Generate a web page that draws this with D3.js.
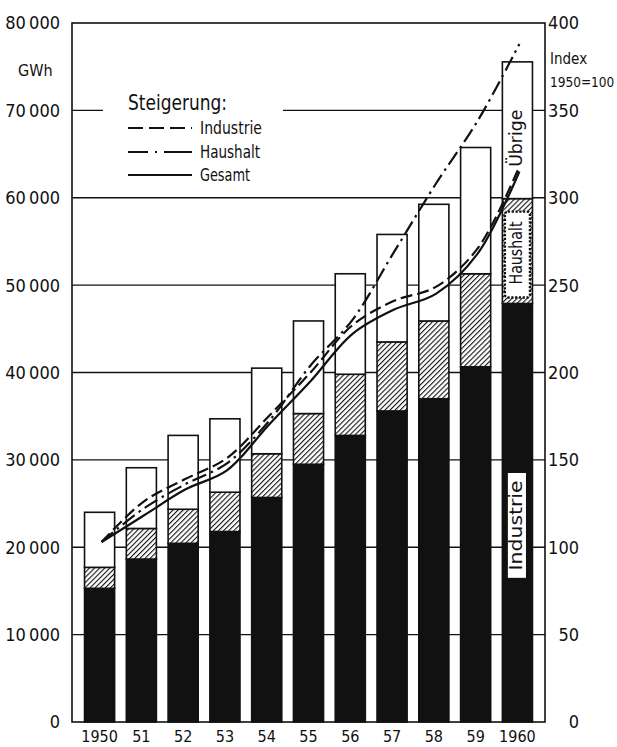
<!DOCTYPE html>
<html>
<head>
<meta charset="utf-8">
<script src="https://cdn.jsdelivr.net/npm/d3@7"></script>
<style>
body { margin: 0; background: #fff; }
svg { display: block; font-family: "Liberation Sans Narrow", "DejaVu Sans Condensed", "Arial Narrow", sans-serif; }
</style>
</head>
<body>
<div id="mainDiv"></div>
<script>
'use strict';

// Stromverbrauch in GWh, nach Verbrauchergruppen
var years     = ['1950', '51', '52', '53', '54', '55', '56', '57', '58', '59', '1960'];
var industrie = [15300, 18650, 20450, 21800, 25700, 29500, 32800, 35600, 37000, 40650, 47900];
var haushalt  = [ 2400,  3500,  3900,  4500,  5000,  5800,  7000,  7900,  8900, 10650, 12000];
var uebrige   = [ 6300,  6950,  8450,  8400,  9800, 10600, 11500, 12300, 13350, 14450, 15650];

// Steigerung, Index 1950 = 100
var idxIndustrie = [103, 126, 139, 151, 175, 200, 227, 241, 249, 271, 318];
var idxHaushalt  = [103, 122, 136, 148, 172, 204, 230, 269, 308, 344, 388];
var idxGesamt    = [103, 118, 133, 144, 170, 195, 222, 236, 245, 268, 315];

var gwhTicks   = [0, 10000, 20000, 30000, 40000, 50000, 60000, 70000, 80000];
var indexTicks = [0, 50, 100, 150, 200, 250, 300, 350, 400];

var myApp = {};

myApp.W = 617;
myApp.H = 747;
myApp.m = {left: 72, right: 72, top: 23, bottom: 25};

myApp.fmt = function(v)
{
    return d3.format(',')(v).replace(/,/g, '\u2009');
}

myApp.buildRows = function()
{
    var rows = [];
    for(var i=0; i<years.length; i++)
    {
        rows.push({year: years[i], industrie: industrie[i], haushalt: haushalt[i], uebrige: uebrige[i]});
    }
    return rows;
}

myApp.run = function()
{
    var m = myApp.m;
    var svg = d3.select('#mainDiv').append('svg')
        .attr('width', myApp.W)
        .attr('height', myApp.H);

    var x = d3.scaleBand()
        .domain(years)
        .range([m.left, myApp.W - m.right])
        .paddingInner(0.28)
        .paddingOuter(0.3);

    var y = d3.scaleLinear().domain([0, 80000]).range([myApp.H - m.bottom, m.top]);
    var yi = d3.scaleLinear().domain([0, 400]).range([myApp.H - m.bottom, m.top]);

    var bw = x.bandwidth();

    // hatch pattern for Haushalt
    var pat = svg.append('defs').append('pattern')
        .attr('id', 'hatch')
        .attr('patternUnits', 'userSpaceOnUse')
        .attr('width', 3.6)
        .attr('height', 3.6)
        .attr('patternTransform', 'rotate(45)');
    pat.append('rect')
        .attr('width', 3.6).attr('height', 3.6).attr('fill', '#fff');
    pat.append('line')
        .attr('x1', 0).attr('y1', 0)
        .attr('x2', 0).attr('y2', 3.6)
        .attr('stroke', '#111')
        .attr('stroke-width', 2.2);

    // gridlines behind bars
    svg.append('g').selectAll('line')
        .data(gwhTicks.slice(1, -1))
        .enter().append('line')
        .attr('x1', m.left)
        .attr('x2', myApp.W - m.right)
        .attr('y1', function(d){ return y(d); })
        .attr('y2', function(d){ return y(d); })
        .attr('stroke', '#111')
        .attr('stroke-width', 1.3);

    // stacked bars
    var keys = ['industrie', 'haushalt', 'uebrige'];
    var fills = {industrie: '#111', haushalt: 'url(#hatch)', uebrige: '#fff'};
    var series = d3.stack().keys(keys)(myApp.buildRows());

    svg.append('g').selectAll('g')
        .data(series)
        .enter().append('g')
        .attr('fill', function(s){ return fills[s.key]; })
        .selectAll('rect')
        .data(function(s){ return s; })
        .enter().append('rect')
        .attr('x', function(d){ return x(d.data.year); })
        .attr('width', bw)
        .attr('y', function(d){ return y(d[1]); })
        .attr('height', function(d){ return y(d[0]) - y(d[1]); })
        .attr('stroke', '#111')
        .attr('stroke-width', 1.6);

    // labels inside the 1960 bar
    var last = years.length - 1;
    var bx = x(years[last]);
    var cx = bx + bw / 2;
    var hTop = y(industrie[last] + haushalt[last]);
    var hBot = y(industrie[last]);

    svg.append('rect')
        .attr('x', bx + 2.5)
        .attr('width', bw - 5)
        .attr('y', hTop + 13)
        .attr('height', hBot - hTop - 19)
        .attr('rx', 3)
        .attr('fill', '#fff')
        .attr('stroke', '#111')
        .attr('stroke-width', 2.4)
        .attr('stroke-dasharray', '2.2,1.6');

    svg.append('rect')
        .attr('x', bx + 5.5)
        .attr('width', bw - 12)
        .attr('y', y(28500))
        .attr('height', y(16500) - y(28500))
        .attr('fill', '#fff');

    var inBar = [
        {t: 'Übrige',    cy: y(industrie[last] + haushalt[last] + uebrige[last] / 2) + 8, len: 57},
        {t: 'Haushalt',  cy: (hTop + hBot) / 2 + 2, len: 63},
        {t: 'Industrie', cy: y(22500), len: 90}
    ];
    svg.append('g').selectAll('text')
        .data(inBar)
        .enter().append('text')
        .attr('transform', function(d){ return 'translate(' + (cx + 5) + ',' + d.cy + ') rotate(-90)'; })
        .attr('text-anchor', 'middle')
        .attr('textLength', function(d){ return d.len; })
        .attr('lengthAdjust', 'spacingAndGlyphs')
        .style('font-size', '17px')
        .attr('fill', '#111')
        .text(function(d){ return d.t; });

    // legend, on a white field that interrupts the 70 000 line
    svg.append('rect')
        .attr('x', 103).attr('y', 90)
        .attr('width', 180).attr('height', 100)
        .attr('fill', '#fff');

    var lg = svg.append('g').attr('fill', '#111');
    lg.append('text')
        .attr('x', 128).attr('y', 110)
        .attr('textLength', 99)
        .attr('lengthAdjust', 'spacingAndGlyphs')
        .style('font-size', '22px')
        .text('Steigerung:');

    var legendItems = [
        {t: 'Industrie', dash: '15,6',          y: 128, len: 62},
        {t: 'Haushalt',  dash: '20,7,2,7,28',   y: 152, len: 60},
        {t: 'Gesamt',    dash: null,            y: 175, len: 50}
    ];
    legendItems.forEach(function(d)
    {
        lg.append('line')
            .attr('x1', 128).attr('x2', 192)
            .attr('y1', d.y).attr('y2', d.y)
            .attr('stroke', '#111')
            .attr('stroke-width', 2)
            .attr('stroke-dasharray', d.dash);
        lg.append('text')
            .attr('x', 200).attr('y', d.y + 6)
            .attr('textLength', d.len)
            .attr('lengthAdjust', 'spacingAndGlyphs')
            .style('font-size', '17px')
            .text(d.t);
    });

    // index lines
    var lx = function(d, i){ return x(years[i]) + bw / 2 + 2; };
    var line = d3.line()
        .x(lx)
        .y(function(d){ return yi(d); })
        .curve(d3.curveCatmullRom.alpha(0.5));

    var curves = [
        {v: idxGesamt,    dash: null,         w: 2.2},
        {v: idxIndustrie, dash: '12,5',       w: 2.2},
        {v: idxHaushalt,  dash: '15,5,2.5,5', w: 2.2}
    ];
    svg.append('g').selectAll('path')
        .data(curves)
        .enter().append('path')
        .attr('d', function(d){ return line(d.v); })
        .attr('fill', 'none')
        .attr('stroke', '#111')
        .attr('stroke-width', function(d){ return d.w; })
        .attr('stroke-dasharray', function(d){ return d.dash; });

    // frame
    svg.append('rect')
        .attr('x', m.left).attr('y', m.top)
        .attr('width', myApp.W - m.left - m.right)
        .attr('height', myApp.H - m.top - m.bottom)
        .attr('fill', 'none')
        .attr('stroke', '#111')
        .attr('stroke-width', 1.6);

    // left axis labels
    svg.append('g').selectAll('text')
        .data(gwhTicks)
        .enter().append('text')
        .attr('x', 60)
        .attr('y', function(d){ return y(d); })
        .attr('dy', '0.36em')
        .attr('text-anchor', 'end')
        .style('font-size', '18px')
        .attr('fill', '#111')
        .text(function(d){ return myApp.fmt(d); });

    svg.append('text')
        .attr('x', 18).attr('y', 76)
        .style('font-size', '16px')
        .attr('fill', '#111')
        .text('GWh');

    // right axis labels
    svg.append('g').selectAll('text')
        .data(indexTicks)
        .enter().append('text')
        .attr('x', 579)
        .attr('y', function(d){ return yi(d); })
        .attr('dy', '0.36em')
        .attr('text-anchor', 'end')
        .style('font-size', '18px')
        .attr('fill', '#111')
        .text(function(d){ return d; });

    svg.append('text')
        .attr('x', 550).attr('y', 64)
        .style('font-size', '15px')
        .attr('fill', '#111')
        .text('Index');
    svg.append('text')
        .attr('x', 550).attr('y', 87)
        .style('font-size', '13.5px')
        .attr('fill', '#111')
        .text('1950=100');

    // year labels
    svg.append('g').selectAll('text')
        .data(years)
        .enter().append('text')
        .attr('x', function(d){ return x(d) + bw / 2; })
        .attr('y', 742)
        .attr('text-anchor', 'middle')
        .style('font-size', '16px')
        .attr('fill', '#111')
        .text(function(d){ return d; });
}

window.myApp = myApp;
myApp.run();
</script>
</body>
</html>
